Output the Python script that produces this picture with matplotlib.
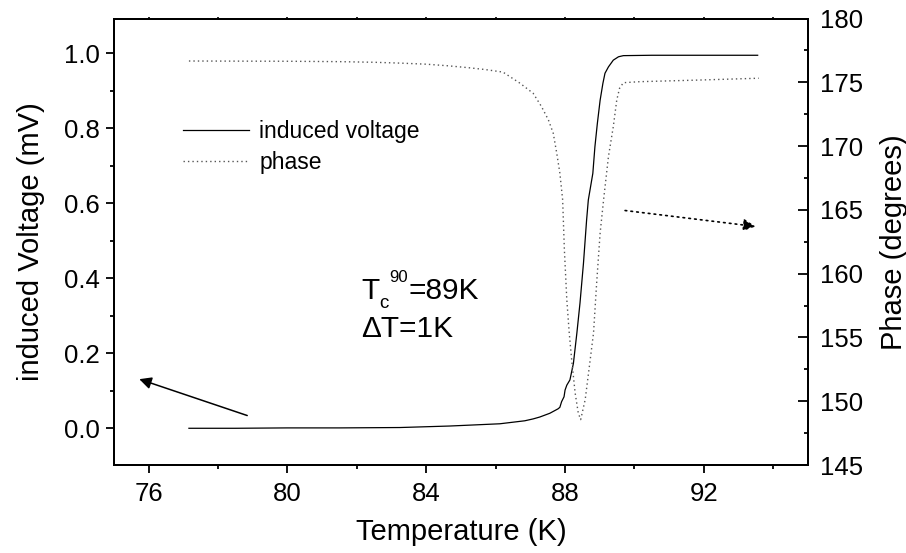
import matplotlib
matplotlib.use("Agg")
import matplotlib.pyplot as plt
from matplotlib.ticker import MultipleLocator

plt.rcParams['font.family'] = ['Liberation Sans', 'DejaVu Sans']

# Induced voltage vs temperature
temp_v = [77.16, 78.5, 80.0, 81.5, 83.24, 84.67, 85.4, 86.12, 86.84, 87.08, 87.27,
          87.56, 87.8, 87.85, 87.9, 87.97, 88.0, 88.05, 88.14, 88.24, 88.34, 88.43,
          88.53, 88.62, 88.67, 88.80, 88.86, 88.93, 89.01, 89.09, 89.15, 89.25,
          89.39, 89.54, 89.68, 90.5, 91.5, 92.5, 93.55]
voltage = [0.0, 0.0, 0.001, 0.001, 0.002, 0.006, 0.009, 0.012, 0.020, 0.025, 0.030,
           0.040, 0.052, 0.056, 0.071, 0.084, 0.102, 0.115, 0.129, 0.173, 0.254, 0.334,
           0.44, 0.555, 0.609, 0.68, 0.751, 0.813, 0.875, 0.92, 0.947, 0.964,
           0.982, 0.991, 0.994, 0.995, 0.995, 0.995, 0.995]

# Phase vs temperature
temp_p = [77.16, 78.5, 80.0, 81.5, 82.5, 83.3, 84.0, 84.6, 85.2, 85.7, 86.21, 86.70,
          87.08, 87.32, 87.52, 87.66, 87.76, 87.85, 87.93, 87.98, 88.05, 88.12, 88.19,
          88.29, 88.38, 88.45, 88.58, 88.70, 88.82, 88.91, 89.01, 89.11, 89.25, 89.39,
          89.49, 89.57, 89.68, 90.16, 91.9, 93.58]
phase = [176.67, 176.66, 176.65, 176.62, 176.57, 176.5, 176.42, 176.3, 176.15, 176.0,
         175.8, 174.93, 174.14, 173.1, 172.05, 171.0, 169.44, 167.88, 165.79, 161.87,
         157.96, 155.35, 153.26, 150.65, 149.08, 148.56, 150.13, 152.73, 155.35, 159.26,
         163.18, 165.79, 169.18, 171.53, 173.62, 174.53, 174.97, 175.05, 175.18, 175.32]

x_ticks = [76, 80, 84, 88, 92]
v_ticks = [0.0, 0.2, 0.4, 0.6, 0.8, 1.0]
p_ticks = [145, 150, 155, 160, 165, 170, 175, 180]

fig = plt.figure(figsize=(9.06, 5.53), dpi=100)
ax = fig.add_axes([0.1258, 0.1591, 0.7660, 0.8074])
ax2 = ax.twinx()

line_v, = ax.plot(temp_v, voltage, color='black', lw=0.9, label='induced voltage')
line_p, = ax2.plot(temp_p, phase, color='#555555', lw=1.0, linestyle=(0, (1, 2.2)),
                   label='phase')

ax.set_xlim(75, 95)
ax.set_ylim(-0.098, 1.093)
ax2.set_ylim(145, 180)

ax.set_xticks(x_ticks)
ax.set_xticklabels([str(t) for t in x_ticks])
ax.xaxis.set_minor_locator(MultipleLocator(2))
ax.set_yticks(v_ticks)
ax.set_yticklabels([f"{v:.1f}" for v in v_ticks])
ax.yaxis.set_minor_locator(MultipleLocator(0.1))
ax2.set_yticks(p_ticks)
ax2.set_yticklabels([str(p) for p in p_ticks])
ax2.yaxis.set_minor_locator(MultipleLocator(2.5))

for a in (ax, ax2):
    for s in a.spines.values():
        s.set_linewidth(1.4)

ax.tick_params(axis='both', which='major', direction='out', length=6, width=1.3,
               labelsize=18.5)
ax.tick_params(axis='both', which='minor', direction='out', length=3, width=1.3)
ax.tick_params(axis='x', which='major', pad=6)
ax.tick_params(axis='y', which='major', pad=4)
ax2.tick_params(axis='y', which='major', direction='in', length=7, width=1.3,
                labelsize=18.5, pad=8.5)
ax2.tick_params(axis='y', which='minor', direction='in', length=3, width=1.3)

# small ticks along the top edge
top = ax.secondary_xaxis('top')
top.set_xticks(list(range(76, 95, 2)))
top.tick_params(direction='out', length=1.5, width=1.2, labeltop=False)
top.spines['top'].set_linewidth(1.4)

ax.set_xlabel('Temperature (K)', fontsize=21, labelpad=9)
ax.set_ylabel('induced Voltage (mV)', fontsize=21, labelpad=14)
ax2.set_ylabel('Phase (degrees)', fontsize=21, labelpad=12)

ax.legend(handles=[line_v, line_p], loc='upper left', bbox_to_anchor=(0.099, 0.772),
          frameon=False, fontsize=16.5, handlelength=2.9, handletextpad=0.45,
          labelspacing=0.35, borderpad=0, borderaxespad=0)

# arrows pointing to the axis each curve belongs to
ax.annotate('', xy=(75.73, 0.131), xytext=(78.84, 0.034),
            arrowprops=dict(arrowstyle='-|>', color='black', lw=1.1,
                            mutation_scale=18, shrinkA=0, shrinkB=0))
ax2.annotate('', xy=(93.49, 163.7), xytext=(89.73, 164.95),
             arrowprops=dict(arrowstyle='-|>', color='black', lw=1.2,
                             linestyle=(0, (1, 2.5)), mutation_scale=18,
                             shrinkA=0, shrinkB=0))

# transition temperature and width
anchor = (82.13, 0.345)
fs = 21.5
ax.annotate('T', xy=anchor, xytext=(0, 0), textcoords='offset points',
            fontsize=fs, ha='left', va='baseline')
ax.annotate('c', xy=anchor, xytext=(12.8, -6.2), textcoords='offset points',
            fontsize=13.5, ha='left', va='baseline')
ax.annotate('90', xy=anchor, xytext=(20, 12.5), textcoords='offset points',
            fontsize=12, ha='left', va='baseline')
ax.annotate('=89K', xy=anchor, xytext=(34, 0), textcoords='offset points',
            fontsize=fs, ha='left', va='baseline')
ax.annotate('\u0394T=1K', xy=anchor, xytext=(0, -27.4), textcoords='offset points',
            fontsize=fs, ha='left', va='baseline')

fig.savefig('out.png', dpi=100)
